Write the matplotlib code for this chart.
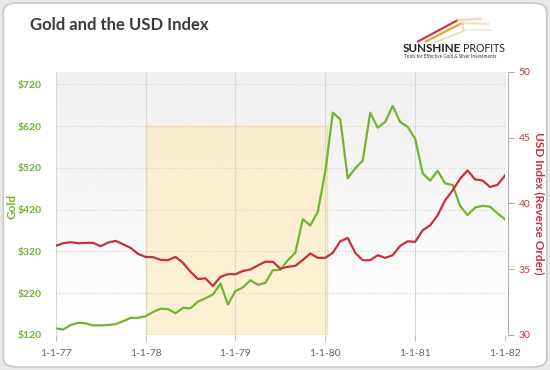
import matplotlib.pyplot as plt
import numpy as np
from matplotlib.patches import FancyBboxPatch, Rectangle

plt.rcParams['font.family'] = ['Lato', 'DejaVu Sans']

# monthly values, Jan 1977 .. Jan 1982
months = np.arange(61)
year_ticks = [0, 12, 24, 36, 48, 60]
year_labels = ["1-1-77", "1-1-78", "1-1-79", "1-1-80", "1-1-81", "1-1-82"]
gold = [136, 133, 144, 149, 148, 143, 143, 144, 146, 153, 161, 161,
        165, 175, 183, 182, 172, 185, 184, 200, 208, 217, 243, 193,
        225, 234, 251, 240, 245, 275, 276, 299, 317, 397, 382, 415,
        511, 652, 636, 495, 519, 537, 652, 616, 630, 668, 630, 618,
        590, 507, 489, 513, 483, 479, 429, 407, 425, 429, 427, 411, 397]
usd = [36.77, 36.97, 37.05, 36.97, 37.0, 37.0, 36.74, 37.02, 37.15, 36.89, 36.62, 36.16,
       35.93, 35.91, 35.71, 35.68, 35.93, 35.48, 34.8, 34.25, 34.3, 33.72, 34.42, 34.62,
       34.62, 34.86, 34.98, 35.28, 35.57, 35.56, 35.04, 35.18, 35.25, 35.7, 36.19, 35.86,
       35.86, 36.24, 37.12, 37.37, 36.24, 35.68, 35.68, 36.06, 35.86, 36.06, 36.77, 37.12,
       37.07, 37.95, 38.33, 39.09, 40.23, 40.98, 41.87, 42.5, 41.82, 41.74, 41.24, 41.41, 42.12]
gold_ticks = [120, 220, 320, 420, 520, 620, 720]
usd_ticks = [30, 35, 40, 45, 50]
band_start, band_end, band_top = 12, 36.2, 620

GREEN = "#71b52c"
RED = "#c9303d"
GREY = "#666666"

fig = plt.figure(figsize=(5.5, 3.7), dpi=100)
fig.patch.set_facecolor("#e9e9e9")
card = FancyBboxPatch((0.006, 0.008), 0.988, 0.984, boxstyle="round,pad=0,rounding_size=0.025",
                      transform=fig.transFigure, facecolor="white", edgecolor="#c8c8c8", lw=1.2,
                      zorder=-10)
fig.patches.append(card)

ax = fig.add_axes([0.1013, 0.0946, 0.8169, 0.7116])
ax.set_facecolor("none")

# background gradient
grad = np.linspace(0.935, 1.0, 100).reshape(-1, 1)
ax.imshow(grad, extent=[0, 1, 0, 1], transform=ax.transAxes, aspect="auto",
          cmap="gray", vmin=0, vmax=1, zorder=0)

ax.add_patch(Rectangle((band_start, gold_ticks[0]), band_end - band_start, band_top - gold_ticks[0],
                       facecolor="#fbecc0", alpha=0.7, edgecolor="#f3d98e", lw=1, zorder=1))

ax.plot(months, gold, color=GREEN, lw=1.6, zorder=4)
ax.set_xlim(0, 60)
ax.set_ylim(120, 750)
ax.set_yticks(gold_ticks, ["$%d" % v for v in gold_ticks])
ax.set_xticks(year_ticks, year_labels)
ax.tick_params(axis="y", length=0, pad=10, labelsize=7.5, labelcolor=GREEN)
ax.tick_params(axis="x", length=4, color="#bbbbbb", pad=6, labelsize=7.5, labelcolor=GREY)
for t in ax.get_yticklabels():
    t.set_fontweight("bold")
ax.grid(axis="y", color="#cfcfcf", ls=":", lw=0.8, zorder=0.5)
ax.grid(axis="x", color="#d8d8d8", ls="-", lw=0.8, zorder=0.5)
ax.set_axisbelow(False)
for s in ax.spines.values():
    s.set_visible(False)

ax2 = ax.twinx()
ax2.plot(months, usd, color=RED, lw=1.6, zorder=3)
ax2.set_ylim(30, 50)
ax2.set_yticks(usd_ticks, [str(v) for v in usd_ticks])
ax2.tick_params(axis="y", length=4, color="#aaaaaa", pad=4, labelsize=7.5, labelcolor=RED)
for tick in ax2.yaxis.get_major_ticks():
    tick.label2.set_fontweight("bold")
for k, s in ax2.spines.items():
    s.set_visible(k == "right")
ax2.spines["right"].set_color("#b0b0b0")
ax2.spines["right"].set_position(("outward", 2))

fig.text(12 / 550, 1 - 206 / 370, "Gold", color=GREEN, fontweight="bold", fontsize=8.5,
         rotation=90, ha="center", va="center")
fig.text(539 / 550, 1 - 203 / 370, "USD Index (Reverse Order)", color=RED, fontweight="bold",
         fontsize=8.5, rotation=270, ha="center", va="center")

fig.text(0.055, 1 - 24.5 / 370, "Gold and the USD Index", fontsize=12, fontweight="bold",
         color="#3a3a3a", va="center")

# logo, drawn in pixel coordinates
logo = fig.add_axes([400 / 550, 1 - 62 / 370, 110 / 550, 54 / 370])
logo.set_xlim(400, 510)
logo.set_ylim(62, 8)
logo.axis("off")
logo.plot([417, 458], [42, 20], color="#d2313f", lw=1.6, solid_capstyle="butt")
logo.plot([458, 480], [20, 19], color="#f2c6b0", lw=1.8, alpha=0.7)
logo.plot([425, 462], [42, 23], color="#eaa32c", lw=1.6, solid_capstyle="butt")
logo.plot([462, 488], [23, 24], color="#f5d9a8", lw=1.8, alpha=0.7)
logo.plot([436, 466], [42, 30], color="#eadcb6", lw=1.3)
logo.plot([466, 492], [30, 30], color="#f3ecd8", lw=1.3)
logo.plot([463, 463], [23, 30], color="#e8d7b0", lw=1.2)
logo.text(461, 48, "SUNSHINE", fontsize=8.4, fontweight="bold", color="#222222",
          va="center", ha="right")
logo.text(463, 48, "PROFITS", fontsize=7.6, color="#222222", va="center")
logo.text(404, 56.7, "Tools for Effective Gold & Silver Investments", fontsize=3.3,
          color="#333333", va="center")

fig.savefig("out.png", dpi=100)
